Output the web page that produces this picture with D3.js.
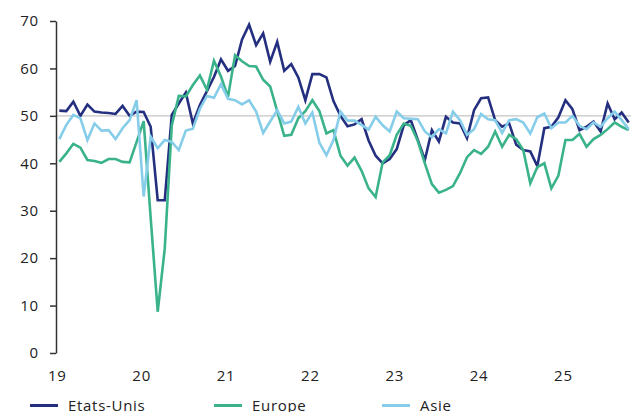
<!DOCTYPE html>
<html>
<head>
<meta charset="utf-8">
<script src="https://cdn.jsdelivr.net/npm/d3@7"></script>
<style>
  body { margin: 0; background: #fff; }
  svg text { font-family: "Open Sans", "Noto Sans", sans-serif; fill: #222; }
</style>
</head>
<body>
<script>
// Monthly values, Jan 2019 -> Oct 2025
var etatsUnis = [51.1, 51.0, 53.0, 50.0, 52.4, 50.9, 50.7, 50.6, 50.4, 52.1, 50.0, 50.9,
  50.8, 47.7, 32.2, 32.2, 50.2, 52.6, 54.9, 48.4, 52.3, 55.2, 58.2, 61.9,
  59.5, 60.5, 66.1, 69.2, 64.9, 67.4, 61.4, 65.6, 59.5, 60.9, 58.1, 53.3,
  58.8, 58.8, 58.1, 53.1, 50.0, 47.8, 48.2, 49.3, 44.8, 41.6, 40.0, 40.9,
  43.0, 48.0, 49.1, 44.9, 40.7, 47.0, 44.6, 49.8, 48.6, 48.4, 45.3, 51.2,
  53.7, 53.9, 49.1, 47.7, 48.4, 43.9, 42.8, 42.5, 39.4, 47.4, 47.7, 49.7,
  53.3, 51.4, 47.0, 47.7, 48.8, 46.7, 52.6, 49.3, 50.7, 48.6];

var europe = [40.3, 42.1, 44.1, 43.3, 40.7, 40.5, 40.1, 40.9, 40.9, 40.3, 40.2, 44.5,
  48.9, 28.5, 8.7, 22.0, 48.0, 54.2, 54.1, 56.5, 58.5, 55.5, 61.6, 58.3,
  54.0, 62.8, 61.5, 60.5, 60.4, 57.6, 56.2, 51.0, 45.8, 46.0, 49.5, 51.0,
  53.3, 51.0, 46.3, 47.0, 41.6, 39.5, 41.2, 38.4, 34.7, 32.9, 40.2, 41.7,
  46.0, 48.4, 47.9, 44.7, 40.0, 35.6, 33.8, 34.4, 35.2, 37.9, 41.3, 42.8,
  42.0, 43.5, 46.7, 43.5, 46.0, 45.1, 42.8, 35.8, 39.2, 40.0, 34.7, 37.4,
  44.9, 44.9, 46.2, 43.5, 45.1, 46.0, 47.2, 48.6, 47.7, 47.0];

var asie = [45.1, 48.1, 50.2, 49.5, 44.9, 48.4, 46.9, 47.0, 45.1, 47.4, 49.1, 53.3,
  33.0, 45.6, 43.2, 44.9, 44.5, 42.8, 46.9, 47.3, 51.5, 54.2, 53.8, 56.7,
  53.6, 53.3, 52.4, 53.3, 50.9, 46.4, 48.8, 51.2, 48.4, 48.8, 51.9, 48.4,
  50.7, 44.3, 41.7, 44.9, 50.9, 49.0, 49.0, 48.1, 47.1, 49.8, 48.0, 46.7,
  50.9, 49.5, 49.4, 49.3, 46.7, 45.5, 47.2, 46.3, 50.9, 49.1, 46.0, 47.2,
  50.4, 49.3, 49.1, 46.4, 49.1, 49.3, 48.6, 46.3, 49.7, 50.5, 47.4, 48.6,
  48.6, 50.0, 47.9, 47.2, 48.6, 47.7, 49.5, 50.9, 49.1, 47.2];

var years = ["19", "20", "21", "22", "23", "24", "25"];
var yTicks = [0, 10, 20, 30, 40, 50, 60, 70];

var series = [
  {name: "Etats-Unis", values: etatsUnis, color: "#24307f"},
  {name: "Europe", values: europe, color: "#3ab38a"},
  {name: "Asie", values: asie, color: "#86cdea"}
];

var width = 631, height = 412;

var svg = d3.select("body").append("svg")
    .attr("width", width)
    .attr("height", height);

var x = d3.scaleLinear().domain([0, etatsUnis.length - 1]).range([59.3, 628.7]);
var y = d3.scaleLinear().domain([0, 70]).range([353, 21]);

// reference line at 50
svg.append("line")
    .attr("x1", 56).attr("x2", width)
    .attr("y1", y(50)).attr("y2", y(50))
    .style("stroke", "#c4c4c4")
    .style("stroke-width", 1.2);

// y axis
var yAxis = svg.append("g")
    .attr("transform", "translate(56,0)")
    .call(d3.axisLeft(y).tickValues(yTicks).tickSize(6).tickSizeOuter(0).tickPadding(11));
yAxis.select(".domain").style("stroke", "#333").style("stroke-width", 1.5);
yAxis.selectAll(".tick line").style("stroke", "#333").style("stroke-width", 1.5);
yAxis.selectAll("text").style("font-size", "15px").style("letter-spacing", "0.8px").style("fill", "#222");

// x labels, one per year
var xAxis = svg.append("g")
    .attr("transform", "translate(0,362)")
    .call(d3.axisBottom(x)
      .tickValues(years.map(function(d, i) { return i * 12 - 0.35; }))
      .tickFormat(function(d, i) { return years[i]; })
      .tickSize(0).tickPadding(8));
xAxis.select(".domain").remove();
xAxis.selectAll("text").style("font-size", "15px").style("letter-spacing", "0.8px").style("fill", "#222");

var line = d3.line()
    .x(function(d, i) { return x(i); })
    .y(function(d) { return y(d); });

svg.selectAll(".series")
    .data(series)
    .enter().append("path")
    .attr("class", "series")
    .attr("d", function(d) { return line(d.values); })
    .style("fill", "none")
    .style("stroke", function(d) { return d.color; })
    .style("stroke-width", 2.6)
    .style("stroke-linejoin", "miter");

// legend
var legendX = [30, 214, 382];
var legend = svg.selectAll(".legend")
    .data(series)
    .enter().append("g")
    .attr("class", "legend")
    .attr("transform", function(d, i) { return "translate(" + legendX[i] + ",405.5)"; });

legend.append("line")
    .attr("x1", 0).attr("x2", 28)
    .style("stroke", function(d) { return d.color; })
    .style("stroke-width", 3);

legend.append("text")
    .attr("x", 38)
    .attr("y", 5)
    .style("font-size", "15px")
    .style("letter-spacing", "0.7px")
    .text(function(d) { return d.name; });
</script>
</body>
</html>
